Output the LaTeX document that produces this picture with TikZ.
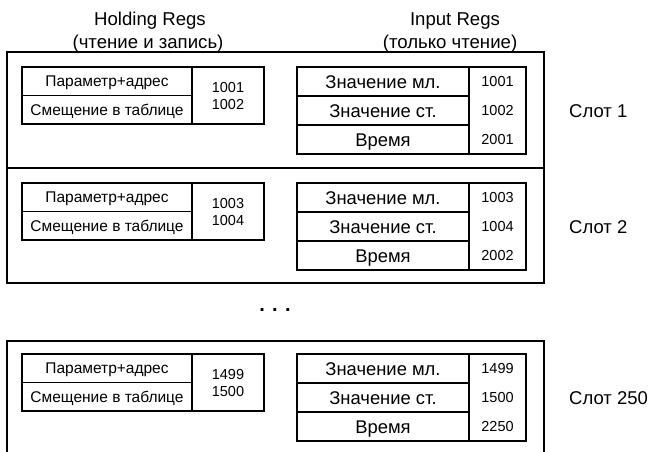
\documentclass[tikz,border=0pt]{standalone}
\usepackage{fontspec}
\setmainfont{Liberation Sans}
\begin{document}
\begin{tikzpicture}[x=1pt,y=-1pt,
  frame/.style={line width=1.4pt},
  cell/.style={draw,line width=1.4pt,inner sep=0pt,anchor=center},
  hdr/.style={font=\fontsize{18.6}{21}\selectfont,inner sep=0pt,text height=13.3pt,text depth=0pt},
  small/.style={font=\fontsize{15.5}{17}\selectfont,text height=11.1pt,text depth=0pt},
  big/.style={font=\fontsize{18.4}{21}\selectfont,text height=13.2pt,text depth=0pt},
  num/.style={font=\fontsize{14.5}{16.5}\selectfont,inner sep=0pt,text height=10.4pt,text depth=0pt},
  slot/.style={font=\fontsize{18.5}{21}\selectfont,inner sep=0pt,text height=13.3pt,text depth=0pt,anchor=west}]
\useasboundingbox (0,0) rectangle (652,451);
% headers
\node[hdr] (h1) at (150,18.5) {Holding Regs};
\node[hdr] (h2) at (148,42) {(чтение и запись)};
\node[hdr] (h3) at (455,18.5) {Input Regs};
\node[hdr] (h4) at (450,42) {(только чтение)};
% frames
\draw[frame] (7,52) rectangle (544,283);
\draw[frame] (7,168) -- (544,168);
\draw[frame] (7,460) -- (7,341) -- (544,341) -- (544,460);
% dots
\node[font=\fontsize{20}{24}\selectfont\bfseries,inner sep=0pt,anchor=base] (dots) at (275,311.5) {. . .};
% slots
\foreach \i/\t/\ha/\hb/\ia/\ib/\ic/\sl in {1/67/1001/1002/1001/1002/2001/Слот 1,2/183/1003/1004/1003/1004/2002/Слот 2,3/354/1499/1500/1499/1500/2250/Слот 250}{
  \node[cell,small,minimum width=170pt,minimum height=28.5pt] (pa\i) at (107,\t+14.25) {Параметр+адрес};
  \node[cell,small,minimum width=170pt,minimum height=28.5pt] (sm\i) at (107,\t+42.75) {Смещение в таблице};
  \node[cell,minimum width=72pt,minimum height=57pt] (hn\i) at (228,\t+28.5) {};
  \node[num] (hna\i) at (228,\t+20.5) {\ha};
  \node[num] (hnb\i) at (228,\t+37) {\hb};
  \node[cell,big,minimum width=172pt,minimum height=29pt] (ml\i) at (383,\t+14.5) {Значение мл.};
  \node[cell,big,minimum width=172pt,minimum height=29pt] (st\i) at (383,\t+43.5) {Значение ст.};
  \node[cell,big,minimum width=172pt,minimum height=29pt] (vr\i) at (383,\t+72.5) {Время};
  \node[cell,minimum width=57pt,minimum height=87pt] (in\i) at (497.5,\t+43.5) {};
  \node[num] (ina\i) at (497.5,\t+14.5) {\ia};
  \node[num] (inb\i) at (497.5,\t+43.5) {\ib};
  \node[num] (inc\i) at (497.5,\t+72.5) {\ic};
  \node[slot] (sl\i) at (569,\t+43.5) {\sl};
}
\end{tikzpicture}
\end{document}
